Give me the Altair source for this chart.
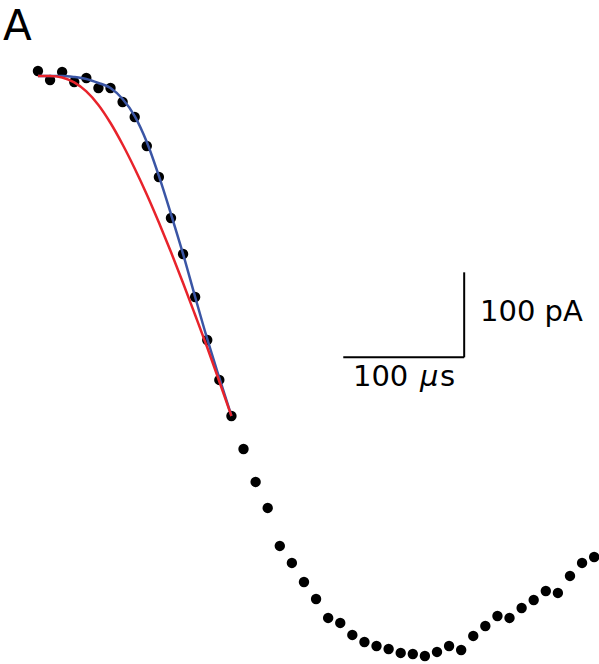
import altair as alt
import pandas as pd

# Recorded current trace, sampled every 10 µs
time_us = [0, 10, 20, 30, 40, 50, 60, 70, 80, 90, 100, 110, 120, 130, 140, 150,
           160, 170, 180, 190, 200, 210, 220, 230, 240, 250, 260, 270, 280, 290,
           300, 310, 320, 330, 340, 350, 360, 370, 380, 390, 400, 410, 420, 430,
           440, 450, 460]
current_pa = [5.9, -4.7, 4.7, -7.1, -2.4, -14.1, -14.1, -30.6, -48.2, -82.4,
              -118.8, -167.1, -209.4, -260.0, -310.6, -357.6, -400.0, -438.8,
              -477.6, -508.2, -552.9, -572.9, -595.3, -615.3, -637.6, -643.5,
              -657.6, -665.9, -670.6, -674.1, -678.8, -680.0, -682.4, -677.6,
              -670.6, -675.3, -658.8, -647.1, -635.3, -637.6, -625.9, -616.5,
              -605.9, -608.2, -588.2, -572.9, -565.9]

# Two model fits over the rising phase
fit_time_us = [0, 10, 20, 30, 40, 50, 60, 70, 80, 90, 100, 110, 120, 130, 140,
               150, 160]
fit_blue_pa = [0.0, 0.0, 0.0, -1.2, -3.5, -8.2, -14.1, -27.1, -47.1, -77.6,
               -117.6, -162.4, -209.4, -260.0, -309.4, -355.3, -400.0]
fit_red_pa = [0.0, 0.0, -1.8, -7.6, -18.2, -34.1, -55.3, -80.6, -108.8, -139.4,
              -172.4, -207.1, -243.5, -281.2, -319.4, -359.4, -400.0]

# Scale bar: 100 µs by 100 pA
bar_t0, bar_len_us = 252.5, 100
bar_i0, bar_len_pa = -331.0, 100

RED = "#E8232B"
BLUE = "#3A55A5"
FONT = "DejaVu Sans"

xs = alt.Scale(domain=[-31.4, 464.0], nice=False, zero=False)
ys = alt.Scale(domain=[-691.8, 89.4], nice=False, zero=False)

trace = pd.DataFrame({"t": time_us, "i": current_pa})
fits = pd.concat([
    pd.DataFrame({"t": fit_time_us, "i": fit_blue_pa, "fit": "blue"}),
    pd.DataFrame({"t": fit_time_us, "i": fit_red_pa, "fit": "red"}),
])

points = alt.Chart(trace).mark_circle(size=108, color="black", opacity=1).encode(
    x=alt.X("t:Q", scale=xs, axis=None),
    y=alt.Y("i:Q", scale=ys, axis=None),
)

blue_line = alt.Chart(fits[fits["fit"] == "blue"]).mark_line(
    color=BLUE, strokeWidth=2.5, interpolate="monotone"
).encode(
    x=alt.X("t:Q", scale=xs, axis=None),
    y=alt.Y("i:Q", scale=ys, axis=None),
)

red_line = alt.Chart(fits[fits["fit"] == "red"]).mark_line(
    color=RED, strokeWidth=2.5, interpolate="monotone"
).encode(
    x=alt.X("t:Q", scale=xs, axis=None),
    y=alt.Y("i:Q", scale=ys, axis=None),
)

bars = pd.DataFrame({
    "t1": [bar_t0, bar_t0 + bar_len_us],
    "t2": [bar_t0 + bar_len_us, bar_t0 + bar_len_us],
    "i1": [bar_i0, bar_i0],
    "i2": [bar_i0, bar_i0 + bar_len_pa],
})
scale_bar = alt.Chart(bars).mark_rule(color="black", strokeWidth=2).encode(
    x=alt.X("t1:Q", scale=xs, axis=None),
    x2="t2:Q",
    y=alt.Y("i1:Q", scale=ys, axis=None),
    y2="i2:Q",
)

labels = pd.DataFrame({
    "t": [365.6, 260.5, 316.0, 332.5],
    "i": [-288.2, -364.7, -364.7, -364.7],
    "txt": ["100 pA", "100", "µ", "s"],
    "style": ["normal", "normal", "italic", "normal"],
})


def label_layer(df, style):
    return alt.Chart(df).mark_text(
        align="left", baseline="alphabetic", font=FONT, fontSize=29,
        fontStyle=style, color="black"
    ).encode(
        x=alt.X("t:Q", scale=xs, axis=None),
        y=alt.Y("i:Q", scale=ys, axis=None),
        text="txt:N",
    )


normal_labels = label_layer(labels[labels["style"] == "normal"], "normal")
italic_labels = label_layer(labels[labels["style"] == "italic"], "italic")

panel = alt.Chart(pd.DataFrame({"txt": ["A"]})).mark_text(
    align="left", baseline="alphabetic", font=FONT, fontSize=42, color="black"
).encode(
    x=alt.value(3),
    y=alt.value(40),
    text="txt:N",
)

chart = alt.layer(
    points, blue_line, red_line, scale_bar, normal_labels, italic_labels, panel
).properties(
    width=599, height=664, padding=0, autosize="none"
).configure_view(stroke=None)

chart.save("out.html", embed_options={"renderer": "svg", "actions": False})
